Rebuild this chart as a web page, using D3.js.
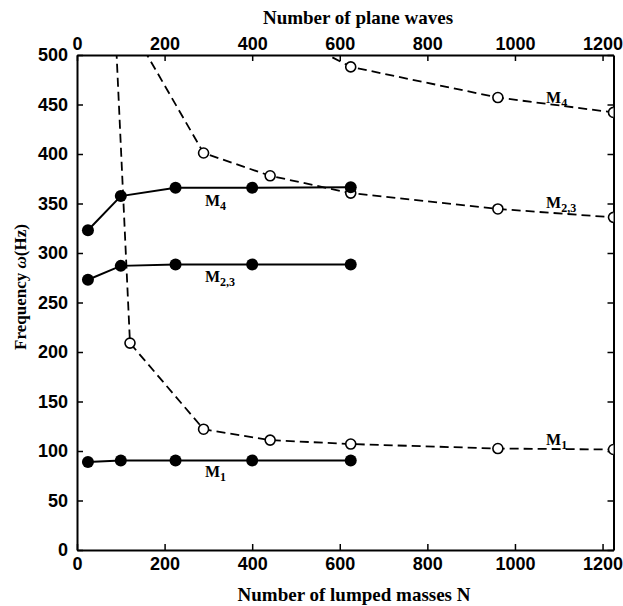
<!DOCTYPE html>
<html><head><meta charset="utf-8">
<script src="https://cdn.jsdelivr.net/npm/d3@7"></script>
<style>
body{margin:0;background:#fff;}
svg text{fill:#000;}
.tick text{font-family:Arial,"Liberation Sans",sans-serif;font-weight:bold;font-size:18px;}
.ttl{font-family:"Liberation Serif","Times New Roman",serif;font-weight:bold;font-size:19px;}
.lbl{font-family:"Liberation Serif","Times New Roman",serif;font-weight:bold;font-size:16px;}
</style></head>
<body>
<svg id="c" width="623" height="606"></svg>
<script>
// Lumped-mass method (solid, filled markers)
const lumpedN = [25, 100, 225, 400, 625];
const lumpedM1 = [89, 90.5, 90.5, 90.5, 90.5];
const lumpedM23 = [273, 287, 288.5, 288.5, 288.5];
const lumpedM4 = [323, 357.5, 366, 366, 366.5];
// Plane-wave method (dashed, open markers)
const pwN_M1 = [81, 121, 289, 441, 625, 961, 1225];
const pwM1 = [590, 209, 122, 111, 107, 102.5, 101.5];
const pwN_M23 = [121, 289, 441, 625, 961, 1225];
const pwM23 = [530, 401, 378, 360.5, 344.5, 336];
const pwN_M4 = [441, 625, 961, 1225];
const pwM4 = [530, 488, 457, 442];
const xTicks = [0, 200, 400, 600, 800, 1000, 1200];
const yTicks = [0, 50, 100, 150, 200, 250, 300, 350, 400, 450, 500];

const svg = d3.select("#c");
const L = 77, R = 613.5, T = 55, B = 550;
const x = d3.scaleLinear().domain([0, 1225]).range([L, R]);
const y = d3.scaleLinear().domain([0, 500]).range([B, T]);

svg.append("defs").append("clipPath").attr("id","clip")
  .append("rect").attr("x",L).attr("y",T).attr("width",R-L).attr("height",B-T);

function axis(gen, tr){
  const g = svg.append("g").attr("transform", tr).call(gen);
  g.select(".domain").attr("stroke","#000").attr("stroke-width",2);
  g.selectAll(".tick line").attr("stroke","#000").attr("stroke-width",1.5);
  return g;
}
axis(d3.axisBottom(x).tickValues(xTicks).tickSizeInner(-6).tickSizeOuter(0).tickPadding(7).tickFormat(d3.format("d")), `translate(0,${B})`);
axis(d3.axisTop(x).tickValues(xTicks).tickSizeInner(-6).tickSizeOuter(0).tickPadding(5).tickFormat(d3.format("d")), `translate(0,${T})`);
axis(d3.axisLeft(y).tickValues(yTicks).tickSizeInner(-6).tickSizeOuter(0).tickPadding(9).tickFormat(d3.format("d")), `translate(${L},0)`);
axis(d3.axisRight(y).tickValues(yTicks).tickSizeInner(-6).tickSizeOuter(0).tickFormat(""), `translate(${R},0)`);

const plot = svg.append("g").attr("clip-path","url(#clip)");
const line = d3.line().x(d=>x(d[0])).y(d=>y(d[1]));

function pw(ns, vs){
  const d = ns.map((n,i)=>[n, vs[i]]);
  plot.append("path").datum(d).attr("d", line).attr("fill","none")
    .attr("stroke","#000").attr("stroke-width",1.8).attr("stroke-dasharray","9,5");
  plot.selectAll(null).data(d).enter().append("circle")
    .attr("cx",p=>x(p[0])).attr("cy",p=>y(p[1])).attr("r",5)
    .attr("fill","#fff").attr("stroke","#000").attr("stroke-width",1.6);
}
function lm(vs){
  const d = lumpedN.map((n,i)=>[n, vs[i]]);
  svg.append("path").datum(d).attr("d", line).attr("fill","none")
    .attr("stroke","#000").attr("stroke-width",2);
  svg.selectAll(null).data(d).enter().append("circle")
    .attr("cx",p=>x(p[0])).attr("cy",p=>y(p[1])).attr("r",6).attr("fill","#000");
}
pw(pwN_M1, pwM1); pw(pwN_M23, pwM23); pw(pwN_M4, pwM4);
lm(lumpedM1); lm(lumpedM23); lm(lumpedM4);

function mlabel(xv, yv, sub){
  const t = svg.append("text").attr("class","lbl").attr("x", x(xv)).attr("y", y(yv));
  t.append("tspan").text("M");
  t.append("tspan").attr("dy",4).attr("font-size","12px").text(sub);
}
mlabel(292, 347, "4");
mlabel(292, 271, "2,3");
mlabel(292, 74, "1");
mlabel(1071, 452, "4");
mlabel(1071, 345.5, "2,3");
mlabel(1071, 106, "1");

svg.append("text").attr("class","ttl").attr("text-anchor","middle")
  .attr("x", 358).attr("y", 24).text("Number of plane waves");
svg.append("text").attr("class","ttl").attr("text-anchor","middle")
  .attr("x", 354).attr("y", 601).text("Number of lumped masses N");
const yt = svg.append("text").attr("class","ttl").attr("text-anchor","middle").style("font-size","17px")
  .attr("transform","translate(26,287) rotate(-90)");
yt.append("tspan").text("Frequency ");
yt.append("tspan").style("font-style","italic").text("ω");
yt.append("tspan").text("(Hz)");
</script>
</body></html>
